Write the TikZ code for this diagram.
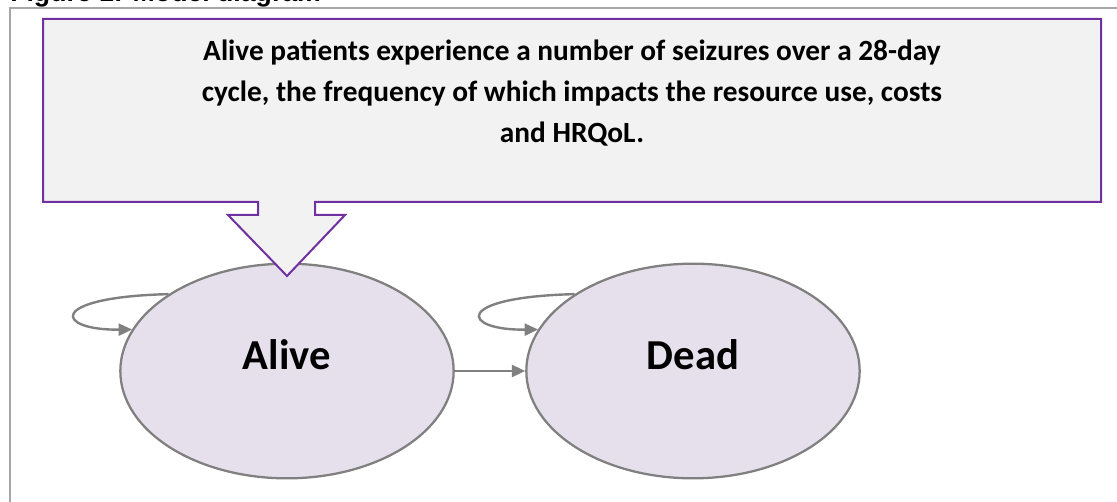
\documentclass[tikz,border=0pt]{standalone}
\usepackage{fontspec}
\setmainfont{Carlito}
\newfontfamily\titlefont{Liberation Sans}
\usetikzlibrary{shapes.geometric,arrows.meta}

\definecolor{framegray}{HTML}{A6A6A6}
\definecolor{linegray}{HTML}{808080}
\definecolor{notefill}{HTML}{F2F2F2}
\definecolor{notepurple}{HTML}{7030A0}
\definecolor{statefill}{HTML}{E6E0EC}

\begin{document}
\begin{tikzpicture}[x=0.75pt,y=-0.75pt,
  state/.style={ellipse,draw=linegray,fill=statefill,line width=1.7pt,
    minimum width=250pt,minimum height=161pt,inner sep=0pt,text depth=24pt,
    font=\fontsize{32}{36}\selectfont\bfseries},
  trans/.style={draw=linegray,line width=1.8pt,
    -{Triangle[length=10pt,width=9pt]}}]
\clip (0,0) rectangle (1117,502);

% frame and cut title
\draw[framegray,line width=1.5pt] (10,530) -- (10,8) -- (1140,8);
\node[anchor=base west,inner sep=0pt,font=\titlefont\fontsize{20}{24}\selectfont\bfseries] (title) at (10,2) {Figure 1: Model diagram};

% states
\node[state] (alive) at (287,371) {Alive};
\node[state] (dead) at (693,371) {Dead};

\draw[trans] (alive.147) .. controls +(-123,3) and +(-77,1) .. (alive.165);
\draw[trans] (dead.147) .. controls +(-123,3) and +(-77,1) .. (dead.165);
\draw[trans] (alive.east) -- (dead.west);

% callout, on top of the states
\draw[notepurple,fill=notefill,line width=1.5pt,line join=miter]
  (43,19) -- (1101,19) -- (1101,202) -- (315,202) -- (315,215) -- (345,215)
  -- (287,276) -- (228,215) -- (258,215) -- (258,202) -- (43,202) -- cycle;
\node[align=center,anchor=base,inner sep=0pt,font=\fontsize{22}{30.75}\selectfont\bfseries] (note) at (572,143)
  {Alive patients experience a number of seizures over a 28-day\\
   cycle, the frequency of which impacts the resource use, costs\\
   and HRQoL.};
\end{tikzpicture}
\end{document}
